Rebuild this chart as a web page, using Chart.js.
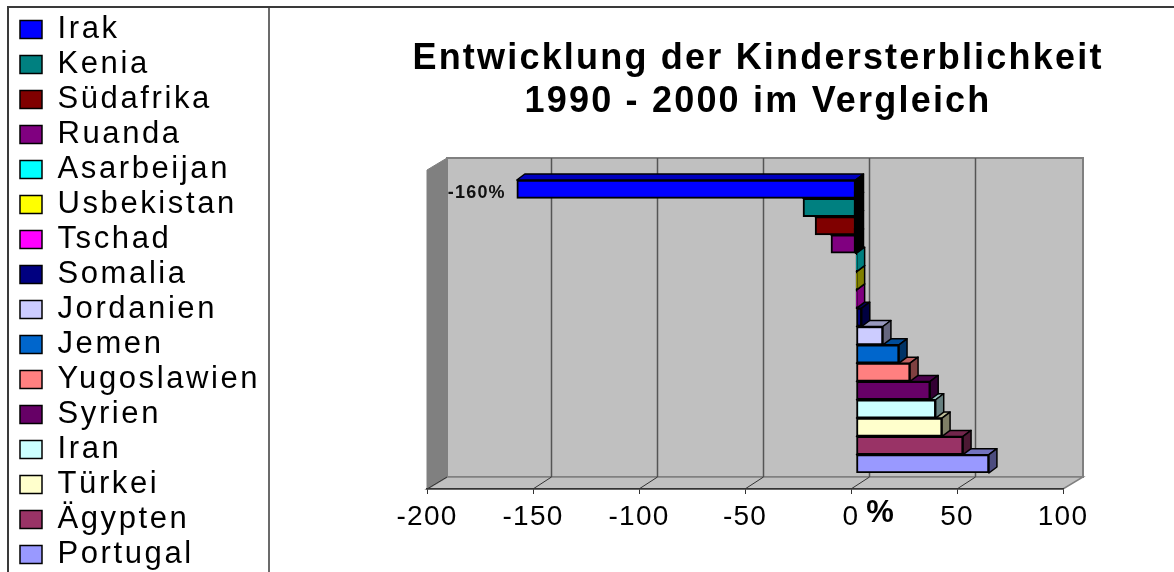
<!DOCTYPE html>
<html><head><meta charset="utf-8">
<style>html,body{margin:0;padding:0;background:#fff}#w{width:1174px;height:572px}</style>
<script src="https://cdn.jsdelivr.net/npm/chart.js@4"></script>
</head><body><div id="w"><canvas id="c"></canvas></div>
<script>
const categories = ['Irak','Kenia','Südafrika','Ruanda','Asarbeijan','Usbekistan','Tschad','Somalia','Jordanien','Jemen','Yugoslawien','Syrien','Iran','Türkei','Ägypten','Portugal'];
const changePercent = [-160,-25,-19.3,-11.8,0.3,0.3,0.3,2.7,12.7,20.3,25.5,35,37.6,40.6,50.5,62.7];
const barColors = ['#0000ff','#008080','#800000','#800080','#00ffff','#ffff00','#ff00ff','#000080','#ccccff','#0066cc','#ff8080','#660066','#ccffff','#ffffcc','#993366','#9999ff'];
const labelledBars = ['Irak'];
const titleLines = ['Entwicklung der Kindersterblichkeit','1990 - 2000 im Vergleich'];

const shade = (hex,f)=>{const n=parseInt(hex.slice(1),16);
  return `rgb(${(n>>16&255)*f|0},${(n>>8&255)*f|0},${(n&255)*f|0})`;};

const DX=20, GRID_DX=18.5, DY=12, BAR_SHIFT=5, FLOOR=16, BD=8, BH=6;

function spaced(obj,name,ctx,sp){
  const key='_sp_'+name; if(obj[key])return; obj[key]=1;
  const d=obj[name];
  obj[name]=function(...a){ctx.letterSpacing=sp;const r=d.apply(this,a);ctx.letterSpacing='0px';return r;};
}

const scene={id:'scene',
  beforeLayout(ch){ spaced(ch.legend,'fit',ch.ctx,'2.6px'); },
  afterLayout(ch){
    const sx=ch.scales.x; sx.top+=FLOOR; sx.bottom+=FLOOR;
    const t=ch.titleBlock; t.left=358; t.right=1158;
    const c=ch.ctx;
    ch.legend.top+=2; ch.legend.bottom+=2;
    spaced(ch.legend,'draw',c,'2.6px');
    spaced(t,'draw',c,'2.2px');
    spaced(sx,'drawLabels',c,'1.2px');
  },
  beforeDraw(ch){
    const c=ch.ctx,sx=ch.scales.x;
    const L=sx.left,R=sx.right,B=sx.top,T=170,bL=L+DX,bR=R+DX,bB=B-DY,bT=T-DY;
    c.save();
    c.strokeStyle='#3a3a3a';c.lineWidth=2;c.beginPath();
    c.moveTo(8,572);c.lineTo(8,7);c.lineTo(1174,7);c.stroke();
    c.lineWidth=1.5;c.beginPath();c.moveTo(269,7);c.lineTo(269,572);c.stroke();
    const poly=(p,f,s,w)=>{c.beginPath();p.forEach((q,i)=>i?c.lineTo(q[0],q[1]):c.moveTo(q[0],q[1]));c.closePath();
      c.fillStyle=f;c.fill();if(s){c.strokeStyle=s;c.lineWidth=w;c.stroke();}};
    poly([[bL,bT],[bR,bT],[bR,bB],[bL,bB]],'#c0c0c0','#808080',2);
    poly([[L,B],[bL,bB],[bR,bB],[R,B]],'#c0c0c0','#808080',1.5);
    poly([[L,T],[bL,bT],[bL,bB],[L,B]],'#808080','#808080',1);
    sx.ticks.forEach(t=>{const x=sx.getPixelForValue(t.value);
      if(t.value>-200&&t.value<100){
        c.strokeStyle='#555';c.lineWidth=1.5;c.beginPath();c.moveTo(x+GRID_DX,bT);c.lineTo(x+GRID_DX,bB);c.stroke();}
      if(t.value<100){c.strokeStyle='#333';c.lineWidth=1;c.beginPath();c.moveTo(x,B);c.lineTo(x+(t.value>-200?GRID_DX:DX),bB);c.stroke();}
    });
    c.restore();
  },
  beforeDatasetsDraw(ch){
    const c=ch.ctx,meta=ch.getDatasetMeta(0);
    c.save();c.translate(BAR_SHIFT,0);
    c.lineWidth=1.5;c.strokeStyle='#000';c.lineJoin='round';
    for(let i=meta.data.length-1;i>=0;i--){
      const e=meta.data[i],p=e.getProps(['x','y','base','height']);
      const t=p.y-p.height/2,b=p.y+p.height/2,l=Math.min(p.x,p.base),r=Math.max(p.x,p.base),col=barColors[i],neg=changePercent[i]<0;
      c.beginPath();c.moveTo(l,t);c.lineTo(l+BD,t-BH);c.lineTo(r+BD,t-BH);c.lineTo(r,t);c.closePath();
      c.fillStyle=shade(col,.75);c.fill();c.stroke();
      c.beginPath();c.moveTo(r,t);c.lineTo(r+BD,t-BH);c.lineTo(r+BD,b-BH);c.lineTo(r,b);c.closePath();
      c.fillStyle=neg?'#000':shade(col,.5);c.fill();c.stroke();
    }
  },
  afterDatasetsDraw(ch){
    const c=ch.ctx,meta=ch.getDatasetMeta(0);
    c.restore();
    c.save();c.fillStyle='#111';c.font='bold 18px "Liberation Sans"';c.textAlign='right';c.textBaseline='middle';
    c.letterSpacing='1.2px';
    labelledBars.forEach(n=>{const i=categories.indexOf(n),e=meta.data[i];
      c.fillText(changePercent[i]+'%',e.x-6,e.y+4);});
    c.letterSpacing='0px';
    const sx=ch.scales.x;
    c.fillStyle='#000';c.font='bold 31px "Liberation Sans"';c.textAlign='center';
    c.fillText('%',sx.getPixelForValue(0)+29,513);
    c.restore();
  }
};

new Chart(document.getElementById('c'),{
  type:'bar',
  plugins:[scene],
  data:{labels:categories,datasets:[{label:'Veränderung in %',data:changePercent,backgroundColor:barColors,
    borderColor:'#000',borderWidth:2,borderSkipped:false,barPercentage:1,categoryPercentage:1}]},
  options:{
    indexAxis:'y',responsive:true,maintainAspectRatio:false,animation:false,
    layout:{padding:{left:16,top:8,right:111,bottom:0}},
    plugins:{
      tooltip:{enabled:false},
      title:{display:true,text:titleLines,fullSize:false,color:'#000',
        font:{family:'"Liberation Sans"',size:36,weight:'bold',lineHeight:43/36},
        padding:{top:30,bottom:56}},
      legend:{display:true,position:'left',align:'start',
        labels:{font:{family:'"Liberation Sans"',size:31},color:'#000',boxWidth:22,boxHeight:18,padding:4,
          generateLabels:()=>categories.map((n,i)=>({text:n,fillStyle:barColors[i],strokeStyle:'#000',lineWidth:1.5,hidden:false,index:i}))}}
    },
    scales:{
      x:{type:'linear',min:-200,max:100,
        ticks:{stepSize:50,color:'#000',padding:6,maxRotation:0,autoSkip:false,font:{family:'"Liberation Sans"',size:28},callback:v=>String(v)},
        grid:{drawOnChartArea:false,drawTicks:true,tickLength:5,tickColor:'#333'},
        border:{color:'#333',width:1.5},
        afterFit:s=>{s.height=99;}},
      y:{type:'category',
        ticks:{display:false},grid:{display:false,drawTicks:false},border:{display:false},
        afterFit:s=>{s.width=Math.max(0,427-16-(s.chart.legend?s.chart.legend.width:0));}}
    }
  }
});
</script></body></html>
